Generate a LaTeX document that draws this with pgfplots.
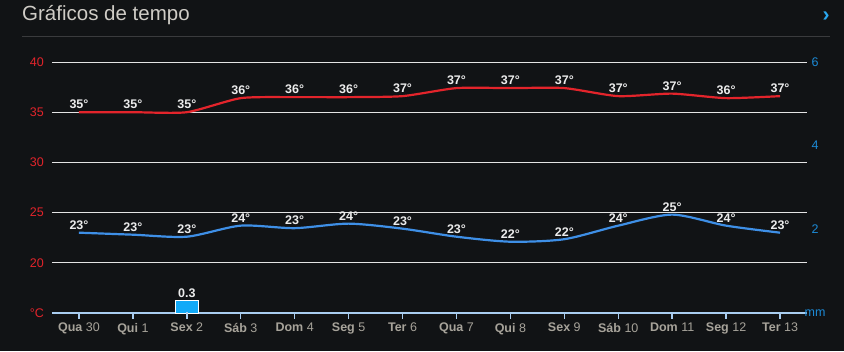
\documentclass[border=0pt]{standalone}
\usepackage{fontspec}
\setmainfont{Liberation Sans}
\usepackage{pgfplots}
\usepackage{pgfplotstable}
\pgfplotsset{compat=1.18}
\definecolor{bgc}{HTML}{111315}
\definecolor{titlec}{HTML}{CFCCC6}
\definecolor{sepc}{HTML}{3A3B3D}
\definecolor{chev}{HTML}{2AA8F0}
\definecolor{gridc}{HTML}{E4E4E4}
\definecolor{axc}{HTML}{A9CDF0}
\definecolor{tred}{HTML}{E3242B}
\definecolor{minblue}{HTML}{3E8FE6}
\definecolor{mmblue}{HTML}{1C8AD6}
\definecolor{tickgray}{HTML}{A7A39A}
\definecolor{vlab}{HTML}{ECECEC}
\definecolor{barc}{HTML}{12AAF8}
\pgfplotstableread{
x y lab
0 35.0 35
1 35.0 35
2 35.0 35
3 36.4 36
4 36.5 36
5 36.5 36
6 36.6 37
7 37.4 37
8 37.4 37
9 37.4 37
10 36.6 37
11 36.85 37
12 36.4 36
13 36.6 37
}\maxtable
\pgfplotstableread{
x y lab
0 23.0 23
1 22.8 23
2 22.6 23
3 23.7 24
4 23.45 23
5 23.9 24
6 23.4 23
7 22.6 23
8 22.1 22
9 22.35 22
10 23.7 24
11 24.8 25
12 23.7 24
13 23.0 23
}\mintable
\newcommand\tickfont{\fontsize{12.5}{12.5}\selectfont}
\begin{document}
\begin{tikzpicture}
\useasboundingbox (0pt,0pt) rectangle (844pt,351pt);
\fill[bgc] (0pt,0pt) rectangle (844pt,351pt);
\node[anchor=west, text=titlec, font=\fontsize{20.5}{20.5}\selectfont, inner sep=0] at (22pt,336pt) {Gráficos de tempo};
\draw[sepc, line width=1pt] (22pt,314pt) -- (830pt,314pt);
\node[text=chev, font=\fontsize{21}{21}\selectfont\bfseries, inner sep=0] at (826pt,334.5pt) {›};
\begin{axis}[
  at={(52pt,38pt)}, anchor=south west, scale only axis,
  width=755pt, height=251pt,
  xmin=-0.5, xmax=13.5, ymin=15, ymax=40,
  axis x line*=bottom, axis y line*=left,
  y axis line style={draw=none},
  x axis line style={draw=axc, line width=1.2pt, -},
  xtick={0,...,13},
  xticklabels={\textbf{Qua} 30, \textbf{Qui} 1, \textbf{Sex} 2, \textbf{Sáb} 3, \textbf{Dom} 4, \textbf{Seg} 5, \textbf{Ter} 6, \textbf{Qua} 7, \textbf{Qui} 8, \textbf{Sex} 9, \textbf{Sáb} 10, \textbf{Dom} 11, \textbf{Seg} 12, \textbf{Ter} 13},
  xtick style={draw=none},
  ytick style={draw=none},
  ytick={15,20,25,30,35,40},
  yticklabels={°C,20,25,30,35,40},
  ymajorgrids, grid style={draw=gridc, line width=0.9pt},
  yticklabel style={text=tred, font=\tickfont, anchor=east, inner sep=0pt, xshift=-8pt},
  xticklabel style={text=tickgray, font=\tickfont, anchor=north, inner sep=0pt, yshift=-10pt},
  clip=false,
  point meta=explicit symbolic,
  nodes near coords={\pgfplotspointmeta°},
  every node near coord/.style={font=\bfseries\fontsize{12.5}{12.5}\selectfont, text=vlab, anchor=south, inner sep=2pt},
]
\addplot[draw=tred, line width=2.2pt, smooth, tension=0.38, no marks] table[x=x, y=y, meta=lab] {\maxtable};
\addplot[draw=minblue, line width=2.2pt, smooth, tension=0.45, no marks] table[x=x, y=y, meta=lab] {\mintable};
\end{axis}
\begin{axis}[
  at={(52pt,38pt)}, anchor=south west, scale only axis,
  width=755pt, height=251pt,
  xmin=-0.5, xmax=13.5, ymin=0, ymax=6,
  axis x line=none, axis y line*=right,
  y axis line style={draw=none},
  ytick style={draw=none},
  ytick={0,2,4,6}, yticklabels={mm,2,4,6},
  yticklabel style={text=mmblue, font=\tickfont, anchor=center, inner sep=0pt, xshift=8pt},
  clip=false,
]
\addplot[ybar, bar width=23pt, fill=barc, draw=white, line width=0.8pt,
  point meta=explicit symbolic, nodes near coords={\pgfplotspointmeta},
  every node near coord/.style={font=\bfseries\fontsize{12.5}{12.5}\selectfont, text=vlab, anchor=south, inner sep=2pt}]
  coordinates {(2,0.3) [0.3]};
\end{axis}
\foreach \i in {0,...,13} {
  \fill[axc] ({52pt+(\i+0.5)*755pt/14-0.7pt}, 38.5pt) rectangle ++(1.4pt,-7pt);
}
\end{tikzpicture}
\end{document}
